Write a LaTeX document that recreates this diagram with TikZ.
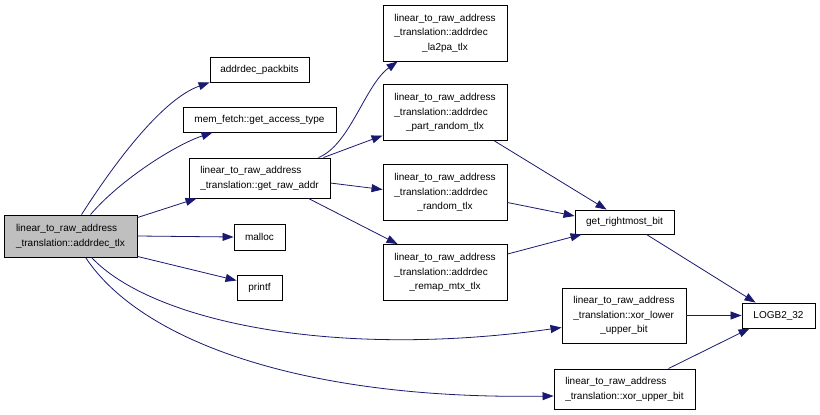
\documentclass[tikz,border=0pt]{standalone}
\usepackage{fontspec}
\setmainfont{Liberation Sans}
\usetikzlibrary{arrows.meta,calc}
\definecolor{edgeblue}{HTML}{191970}
\definecolor{mainfill}{HTML}{BFBFBF}
\newcommand{\twol}[2]{\begin{tabular}{@{}l@{}}#1\\#2\end{tabular}}
\newcommand{\threel}[3]{\begin{tabular}{@{}l@{}}#1\\#2\\\multicolumn{1}{@{}c@{}}{#3}\end{tabular}}
\renewcommand{\arraystretch}{1.2}
\begin{document}
\begin{tikzpicture}[x=1pt,y=-1pt,
 box/.style={draw=black,line width=0.9pt,inner sep=0pt,font=\fontsize{10}{12}\selectfont,fill=white},
 edge/.style={draw=edgeblue,line width=0.8pt,-{Triangle[length=11pt,width=8pt]}}]
\useasboundingbox (0,0) rectangle (820,415);
\node[box,fill=mainfill,minimum width=133pt,minimum height=42pt] (main) at (70.5,236) {\twol{linear\_to\_raw\_address}{\_translation::addrdec\_tlx}};
\node[box,minimum width=99pt,minimum height=25pt] (packbits) at (259.5,69.5) {addrdec\_packbits};
\node[box,minimum width=153pt,minimum height=25pt] (memfetch) at (259.5,119.5) {mem\_fetch::get\_access\_type};
\node[box,minimum width=141pt,minimum height=40pt] (getraw) at (259.5,178) {\twol{linear\_to\_raw\_address}{\_translation::get\_raw\_addr}};
\node[box,minimum width=51pt,minimum height=26pt] (malloc) at (259.5,237) {malloc};
\node[box,minimum width=45pt,minimum height=25pt] (printf) at (259.5,287.5) {printf};
\node[box,minimum width=124pt,minimum height=56pt] (la2pa) at (445,33) {\threel{linear\_to\_raw\_address}{\_translation::addrdec}{\_la2pa\_tlx}};
\node[box,minimum width=124pt,minimum height=56pt] (part) at (445,112.5) {\threel{linear\_to\_raw\_address}{\_translation::addrdec}{\_part\_random\_tlx}};
\node[box,minimum width=124pt,minimum height=56pt] (random) at (445,192.5) {\threel{linear\_to\_raw\_address}{\_translation::addrdec}{\_random\_tlx}};
\node[box,minimum width=124pt,minimum height=56pt] (remap) at (445,272.5) {\threel{linear\_to\_raw\_address}{\_translation::addrdec}{\_remap\_mtx\_tlx}};
\node[box,minimum width=99pt,minimum height=24pt] (grb) at (624.5,222) {get\_rightmost\_bit};
\node[box,minimum width=124pt,minimum height=55pt] (xorl) at (624,315.5) {\threel{linear\_to\_raw\_address}{\_translation::xor\_lower}{\_upper\_bit}};
\node[box,minimum width=73pt,minimum height=25pt] (logb) at (778.5,315.5) {LOGB2\_32};
\node[box,minimum width=141pt,minimum height=40pt] (xoru) at (624.5,389) {\twol{linear\_to\_raw\_address}{\_translation::xor\_upper\_bit}};

\draw[edge] ($(main.north west)+(78,0)$) .. controls (110,170) and (160,100) .. (packbits.south west);
\draw[edge] ($(main.north west)+(87,0)$) .. controls (120,180) and (175,145) .. ($(memfetch.south west)+(30,0)$);
\draw[edge] ($(main.north east)+(0,3)$) -- ($(getraw.south west)+(8,0)$);
\draw[edge] (main.east) -- (malloc.west);
\draw[edge] ($(main.south east)+(0,-1)$) -- ($(printf.west)+(0,-7)$);
\draw[edge] ($(main.south west)+(88,0)$) .. controls (150,320) and (330,360) .. ($(xorl.west)+(0,12)$);
\draw[edge] ($(main.south west)+(82,0)$) .. controls (140,340) and (300,400) .. ($(xoru.west)+(0,7)$);
\draw[edge] ($(getraw.north east)+(-12,0)$) .. controls (350,145) and (365,85) .. ($(la2pa.south west)+(15,0)$);
\draw[edge] ($(getraw.north east)+(-7,0)$) -- ($(part.west)+(0,23)$);
\draw[edge] ($(getraw.east)+(0,5)$) -- ($(random.west)+(0,-3)$);
\draw[edge] ($(getraw.south east)+(-22,0)$) -- ($(remap.north west)+(15,0)$);
\draw[edge] ($(part.south east)+(-13,0)$) -- ($(grb.north west)+(32,0)$);
\draw[edge] ($(random.east)+(0,10)$) -- ($(grb.west)+(0,-6)$);
\draw[edge] ($(remap.north east)+(0,10)$) -- ($(grb.south west)+(7,0)$);
\draw[edge] ($(grb.south east)+(-28,0)$) -- ($(logb.north west)+(14,0)$);
\draw[edge] (xorl.east) -- (logb.west);
\draw[edge] ($(xoru.north east)+(-27,0)$) -- ($(logb.south west)+(8,0)$);
\end{tikzpicture}
\end{document}
